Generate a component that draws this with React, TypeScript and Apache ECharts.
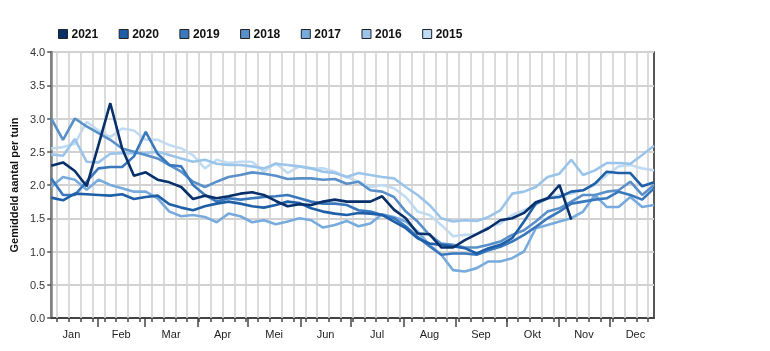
import React, { useEffect, useRef } from "react";
import * as echarts from "echarts";

const YEARS = ["2021", "2020", "2019", "2018", "2017", "2016", "2015"];
const COLORS = ["#08306b", "#1f5fa8", "#3a78bd", "#5a90c9", "#78abdd", "#9ac4ea", "#bedcf5"];
const MONTHS = ["Jan", "Feb", "Mar", "Apr", "Mei", "Jun", "Jul", "Aug", "Sep", "Okt", "Nov", "Dec"];
const MONTH_STARTS = [0, 31, 59, 90, 120, 151, 181, 212, 243, 273, 304, 334, 365];
const Y_TICKS = [0, 0.5, 1, 1.5, 2, 2.5, 3, 3.5, 4];

const v2021 = [2.29, 2.34, 2.21, 1.98, 2.6, 3.23, 2.55, 2.14, 2.19, 2.08, 2.04, 1.97, 1.79, 1.84, 1.8, 1.83, 1.87, 1.89, 1.85, 1.76, 1.68, 1.71, 1.7, 1.75, 1.78, 1.75, 1.75, 1.75, 1.83, 1.63, 1.5, 1.27, 1.26, 1.06, 1.06, 1.17, 1.26, 1.35, 1.47, 1.5, 1.58, 1.74, 1.8, 2.0, 1.48];
const v2020 = [1.81, 1.77, 1.87, 1.86, 1.85, 1.84, 1.86, 1.79, 1.82, 1.84, 1.71, 1.66, 1.62, 1.68, 1.72, 1.75, 1.72, 1.68, 1.66, 1.7, 1.75, 1.73, 1.65, 1.6, 1.57, 1.55, 1.58, 1.57, 1.55, 1.45, 1.35, 1.2, 1.12, 1.1, 1.08, 1.05, 0.97, 1.05, 1.1, 1.2, 1.45, 1.72, 1.8, 1.82, 1.9, 1.92, 2.02, 2.2, 2.18, 2.18, 1.98, 2.04];
const v2019 = [2.1, 1.85, 1.85, 2.05, 2.25, 2.27, 2.27, 2.43, 2.8, 2.47, 2.3, 2.28, 2.0, 1.85, 1.75, 1.8, 1.78, 1.8, 1.82, 1.83, 1.85, 1.8, 1.75, 1.72, 1.72, 1.7, 1.62, 1.6, 1.55, 1.5, 1.38, 1.22, 1.08, 0.95, 0.97, 0.97, 0.95, 1.02, 1.07, 1.15, 1.25, 1.37, 1.5, 1.6, 1.72, 1.75, 1.78, 1.8, 1.9, 1.85, 1.78, 1.95];
const v2018 = [3.0, 2.68, 3.0, 2.88, 2.78, 2.68, 2.55, 2.5, 2.45, 2.4, 2.3, 2.2, 2.05, 1.97, 2.05, 2.12, 2.15, 2.19, 2.17, 2.14, 2.09, 2.1, 2.1, 2.08, 2.09, 2.02, 2.05, 1.92, 1.9, 1.82, 1.6, 1.45, 1.25, 1.12, 1.1, 1.06, 1.06, 1.1, 1.15, 1.25, 1.32, 1.45, 1.6, 1.65, 1.75, 1.85, 1.85, 1.9, 1.92, 2.05, 1.85, 2.0];
const v2017 = [1.97, 2.12, 2.08, 1.93, 2.08, 2.0, 1.95, 1.9, 1.9, 1.8, 1.6, 1.53, 1.55, 1.52, 1.44, 1.57, 1.53, 1.44, 1.47, 1.41, 1.45, 1.5, 1.47, 1.36, 1.4, 1.46, 1.38, 1.42, 1.56, 1.52, 1.45, 1.3, 1.1, 0.95, 0.72, 0.7, 0.75, 0.85, 0.85, 0.9, 1.0, 1.35, 1.4, 1.45, 1.5, 1.6, 1.85, 1.67, 1.67, 1.82, 1.67, 1.7];
const v2016 = [2.46, 2.44, 2.69, 2.35, 2.34, 2.47, 2.48, 2.48, 2.48, 2.5, 2.45, 2.4, 2.35, 2.38, 2.32, 2.3, 2.3, 2.28, 2.25, 2.32, 2.3, 2.28, 2.25, 2.2, 2.18, 2.12, 2.18, 2.15, 2.12, 2.1, 1.97, 1.85, 1.7, 1.5, 1.45, 1.47, 1.46, 1.52, 1.62, 1.87, 1.9, 1.97, 2.12, 2.17, 2.38, 2.15, 2.22, 2.33, 2.33, 2.32, 2.45, 2.59];
const v2015 = [2.55, 2.57, 2.62, 2.95, 2.82, 2.72, 2.85, 2.82, 2.68, 2.68, 2.6, 2.55, 2.45, 2.25, 2.38, 2.33, 2.35, 2.35, 2.2, 2.33, 2.18, 2.28, 2.25, 2.25, 2.2, 2.12, 2.05, 1.97, 2.0, 1.95, 1.82, 1.6, 1.55, 1.4, 1.23, 1.25, 1.26, 1.37, 1.42, 1.55, 1.62, 1.7, 1.8, 1.85, 1.87, 1.92, 2.0, 2.15, 2.28, 2.3, 2.25, 2.22];

const VALUES = [v2021, v2020, v2019, v2018, v2017, v2016, v2015];

// week centres (day of year) for the 52 weekly observations
const WEEK_CENTRES = Array.from({ length: 52 }, (_, k) => 3.5 + 7 * k);
const WEEK_BOUNDS = Array.from({ length: 51 }, (_, k) => 7 * (k + 1));
const MONTH_MIDS = MONTHS.map((_, i) => (MONTH_STARTS[i] + MONTH_STARTS[i + 1]) / 2);
const MONTH_BOUNDS = MONTH_STARTS.slice(1, 12);

const FONT = "Liberation Sans, Arial, sans-serif";

export default function App() {
  const ref = useRef<HTMLDivElement>(null);
  useEffect(() => {
    if (!ref.current) return;
    const chart = echarts.init(ref.current, null, { renderer: "svg" });
    const xMin = WEEK_CENTRES[0];
    const xMax = WEEK_CENTRES[WEEK_CENTRES.length - 1];
    const series: any[] = YEARS.map((y, i) => ({
      name: y,
      type: "line",
      data: VALUES[i].map((v, k) => [WEEK_CENTRES[k], v]),
      showSymbol: false,
      symbol: "none",
      lineStyle: { width: 2.6, color: COLORS[i] },
      itemStyle: { color: COLORS[i] },
      z: 10 - i,
    }));
    series.push({
      name: "grid",
      type: "line",
      data: [],
      silent: true,
      z: 1,
      markLine: {
        silent: true,
        symbol: "none",
        label: { show: false },
        lineStyle: { color: "#d2d2d2", width: 1.6, type: "solid" },
        data: WEEK_BOUNDS.map((d) => ({ xAxis: d })),
      },
    });
    chart.setOption({
      animation: false,
      legend: {
        data: YEARS,
        left: 53,
        top: 23,
        itemWidth: 9,
        itemHeight: 9,
        itemGap: 20.5,
        icon: "rect",
        itemStyle: { borderColor: "#222", borderWidth: 1 },
        textStyle: { fontFamily: FONT, fontSize: 12, fontWeight: "bold", color: "#111", padding: [0, 0, 0, -1] },
      },
      grid: {
        left: 50,
        right: 116,
        top: 52,
        bottom: 33,
        show: true,
        borderColor: "#222",
        borderWidth: 1.5,
        backgroundColor: "transparent",
      },
      xAxis: [
        {
          type: "value",
          min: xMin,
          max: xMax,
          axisLine: { show: true, lineStyle: { color: "#444", width: 2 } },
          axisTick: { show: true, length: 4, customValues: WEEK_BOUNDS, lineStyle: { color: "#444", width: 1.5 } },
          axisLabel: {
            customValues: MONTH_MIDS,
            margin: 10,
            fontFamily: FONT,
            fontSize: 11,
            color: "#222",
            formatter: (val: number) => {
              const i = MONTH_MIDS.findIndex((m) => Math.abs(m - val) < 0.01);
              return i >= 0 ? MONTHS[i] : "";
            },
          },
          splitLine: { show: false },
        },
        {
          type: "value",
          min: xMin,
          max: xMax,
          position: "bottom",
          axisLine: { show: false },
          axisTick: { show: true, length: 9, customValues: MONTH_BOUNDS, lineStyle: { color: "#444", width: 1.5 } },
          axisLabel: { show: false },
          splitLine: { show: false },
        },
      ],
      yAxis: {
        type: "value",
        min: 0,
        max: 4,
        interval: 0.5,
        name: "Gemiddeld aantal per tuin",
        nameLocation: "middle",
        nameGap: 30,
        nameTextStyle: { fontFamily: FONT, fontSize: 11, fontWeight: "bold", color: "#111" },
        axisLine: { show: true, lineStyle: { color: "#808080", width: 2.5 } },
        axisTick: { show: true, length: 4, lineStyle: { color: "#555", width: 1.5 } },
        axisLabel: {
          fontFamily: FONT,
          fontSize: 11,
          color: "#333",
          margin: 6,
          formatter: (v: number) => (Y_TICKS.includes(v) ? v.toFixed(1) : ""),
        },
        splitLine: { show: true, lineStyle: { color: "#d2d2d2", width: 2 } },
      },
      series,
    });
    return () => chart.dispose();
  }, []);
  return <div ref={ref} style={{ position: "fixed", left: 0, top: 0, width: 770, height: 351 }} />;
}
